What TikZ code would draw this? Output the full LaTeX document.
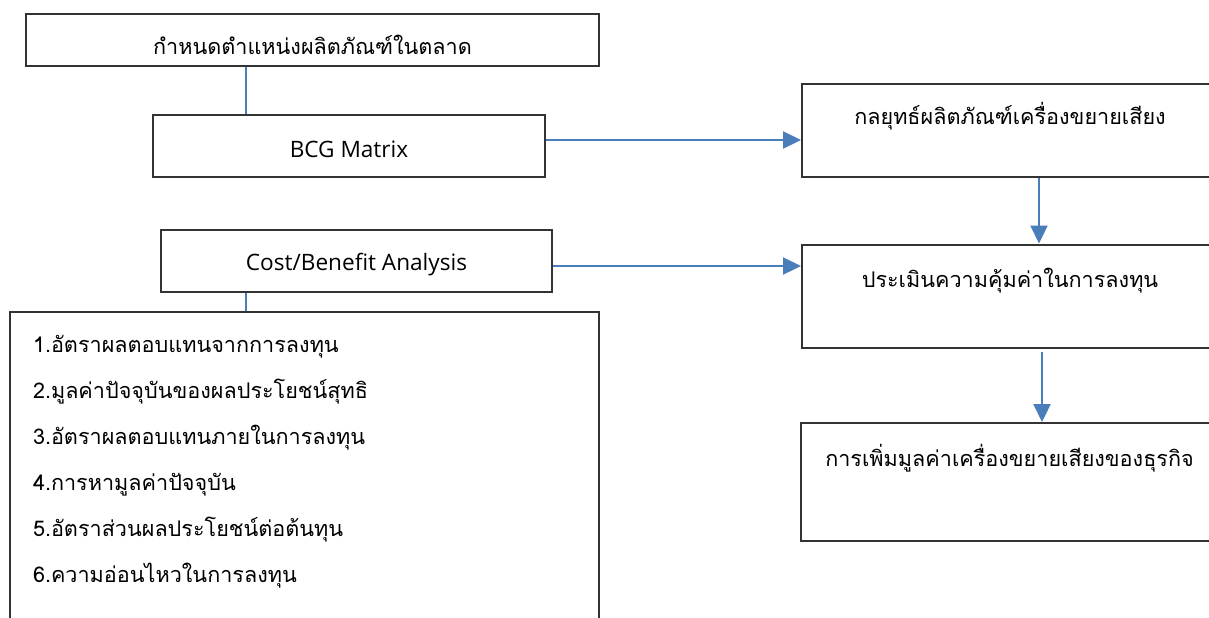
\documentclass[tikz,border=0pt]{standalone}
\usepackage{fontspec}
\setmainfont{Open Sans}
\newfontfamily\thaifont[Script=Thai]{Loma}
\usetikzlibrary{arrows.meta}
\definecolor{boxgray}{HTML}{333333}
\definecolor{linkblue}{HTML}{4A7EBB}

\begin{document}
\begin{tikzpicture}[x=0.5pt, y=-0.5pt,
	main/.style={rectangle, draw=boxgray, line width=1pt, inner sep=0pt, anchor=north west, font=\thaifont\fontsize{10.8}{13}\selectfont},
	latin/.style={font=\fontsize{11.3}{13}\selectfont},
	link/.style={draw=linkblue, line width=1.1pt},
	flow/.style={link, -{Triangle[length=9pt, width=8.5pt]}}
	]
	\useasboundingbox (0,0) rectangle (1209,617);

	\node (market) [main, minimum width=286.5pt, text height=20.5pt, text depth=5.5pt] at (25,12.5) {กำหนดตำแหน่งผลิตภัณฑ์ในตลาด};
		\node (bcg) [main, latin, minimum width=196pt, text height=21pt, text depth=10pt] at (152,114) {BCG Matrix};
		\node (cba) [main, latin, minimum width=195.5pt, text height=20pt, text depth=11pt] at (160,229) {Cost/Benefit Analysis};
			\node (methods) [main, inner xsep=11.5pt, text height=20.5pt, text depth=200pt, font=\thaifont\fontsize{10.8}{23}\selectfont] at (9,310.5)
				{\parbox[t]{271.5pt}{1.อัตราผลตอบแทนจากการลงทุน\\2.มูลค่าปัจจุบันของผลประโยชน์สุทธิ\\3.อัตราผลตอบแทนภายในการลงทุน\\4.การหามูลค่าปัจจุบัน\\5.อัตราส่วนผลประโยชน์ต่อต้นทุน\\6.ความอ่อนไหวในการลงทุน}};

	\node (strategy) [main, minimum width=208pt, text height=20.25pt, text depth=26.5pt] at (801,82.5) {กลยุทธ์ผลิตภัณฑ์เครื่องขยายเสียง};
		\node (evaluate) [main, minimum width=208pt, text height=21.5pt, text depth=30.25pt] at (801,243.5) {ประเมินความคุ้มค่าในการลงทุน};
			\node (addvalue) [main, minimum width=208.5pt, text height=21.5pt, text depth=37.5pt] at (800,422) {การเพิ่มมูลค่าเครื่องขยายเสียงของธุรกิจ};

	\draw [link] ([xshift=-33.25pt]market.south) -- ([xshift=-33.25pt]market.south |- bcg.north);
	\draw [link] ([xshift=-55.25pt]cba.south) -- ([xshift=-55.25pt]cba.south |- methods.north);
	\draw [flow] ([yshift=3pt]bcg.east) -- ([yshift=3pt]bcg.east -| strategy.west);
	\draw [flow] ([yshift=-2.5pt]cba.east) -- ([yshift=-2.5pt]cba.east -| evaluate.west);
	\draw [flow] ([xshift=14.5pt]strategy.south) -- ([xshift=14.5pt]strategy.south |- evaluate.north);
	\draw [flow] ([xshift=16pt, yshift=-1.5pt]evaluate.south) -- ([xshift=16pt]evaluate.south |- addvalue.north);

\end{tikzpicture}
\end{document}
